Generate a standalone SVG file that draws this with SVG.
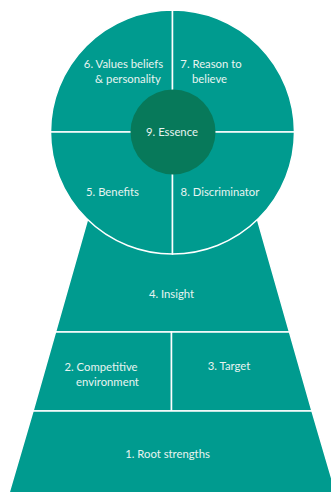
<svg xmlns="http://www.w3.org/2000/svg" width="331" height="492" viewBox="0 0 331 492">
<style>
.seg{fill:#009B8F;stroke:#FFFFFF;stroke-width:1.5;stroke-linejoin:miter}
.core{fill:#07795A}
.lbl{font-family:Lato,"Liberation Sans",sans-serif;font-size:11.3px;fill:#E8F4F1;text-anchor:middle}
</style>
<rect width="331" height="492" fill="#FFFFFF"/>
<g id="connectors"></g>
<g id="n4-insight">
<polygon class="seg" points="88.8,215 256.2,215 289.5,332 55.5,332"/>
<text class="lbl" x="171.5" y="298">4. Insight</text>
</g>
<g id="n2-competitive">
<polygon class="seg" points="55.5,332 171.5,332 171.5,411 33,411"/>
<text class="lbl" x="101" y="371">2. Competitive</text>
<text class="lbl" x="107.5" y="385.5">environment</text>
</g>
<g id="n3-target">
<polygon class="seg" points="171.5,332 289.5,332 312,411 171.5,411"/>
<text class="lbl" x="229" y="369.5">3. Target</text>
</g>
<g id="n1-root">
<polygon class="seg" points="33,411 312,411 336,493 9,493"/>
<text class="lbl" x="167.5" y="457.5">1. Root strengths</text>
</g>
<g id="n6-values">
<path class="seg" d="M172.5,132 L50.5,132 A122,122 0 0 1 172.5,10 Z"/>
<text class="lbl" x="123.5" y="68">6. Values beliefs</text>
<text class="lbl" x="128" y="82.5">&amp; personality</text>
</g>
<g id="n7-reason">
<path class="seg" d="M172.5,132 L172.5,10 A122,122 0 0 1 294.5,132 Z"/>
<text class="lbl" x="211" y="68">7. Reason to</text>
<text class="lbl" x="209.5" y="82.5">believe</text>
</g>
<g id="n5-benefits">
<path class="seg" d="M172.5,132 L172.5,254 A122,122 0 0 1 50.5,132 Z"/>
<text class="lbl" x="112.5" y="196">5. Benefits</text>
</g>
<g id="n8-discriminator">
<path class="seg" d="M172.5,132 L294.5,132 A122,122 0 0 1 172.5,254 Z"/>
<text class="lbl" x="220" y="196">8. Discriminator</text>
</g>
<g id="n9-essence">
<circle class="core" cx="173" cy="132" r="42.5"/>
<text class="lbl" x="172" y="136">9. Essence</text>
</g>
</svg>
